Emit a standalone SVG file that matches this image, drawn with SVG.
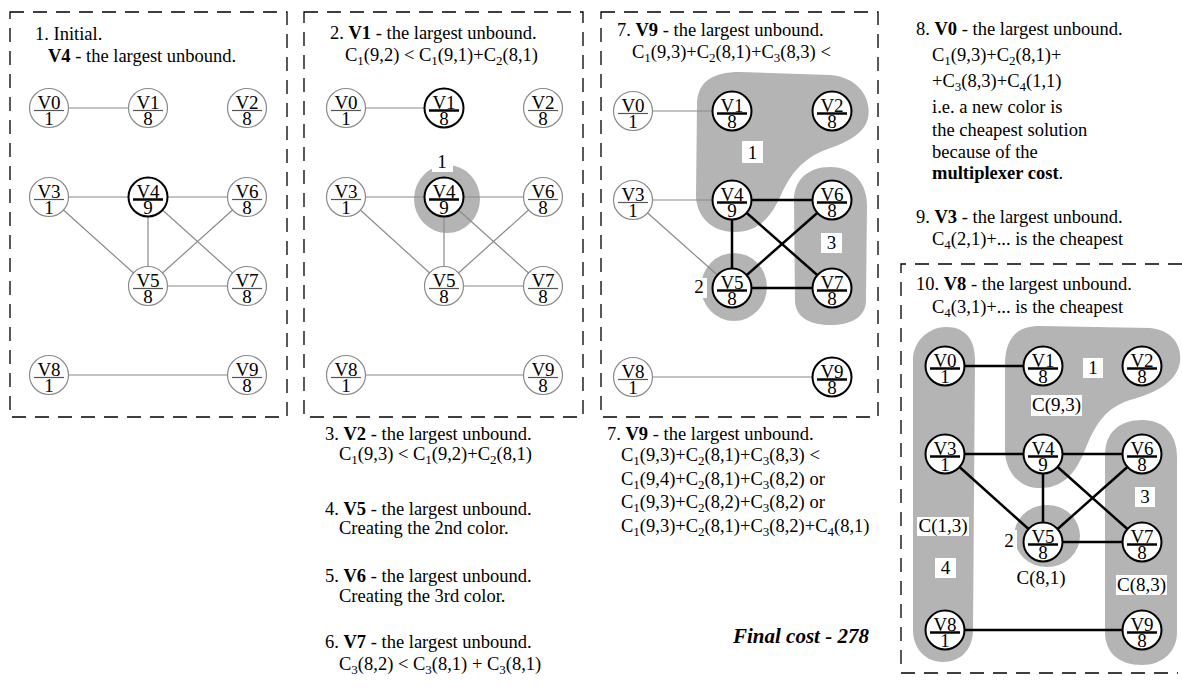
<svg xmlns="http://www.w3.org/2000/svg" width="1182" height="690" viewBox="0 0 1182 690">
<style>
.txt{font-family:"Liberation Serif","Times New Roman",serif;font-size:18.5px;fill:#000}
.b{font-weight:bold}
.s{font-size:13px}
.fin{font-family:"Liberation Serif","Times New Roman",serif;font-size:21px;font-weight:bold;font-style:italic}
.n text{font-family:"Liberation Serif","Times New Roman",serif;font-size:19px;text-anchor:middle;fill:#000}
.n circle{fill:#fff;stroke:#8a8a8a;stroke-width:1.2}
.n line{stroke:#555;stroke-width:1.2}
.n.k circle{stroke:#000;stroke-width:2}
.n.k line{stroke:#000;stroke-width:2.5}
.e{stroke:#8a8a8a;stroke-width:1.2}
.ek{stroke:#000;stroke-width:2.5}
.blob{fill:#b4b4b4}
.box{fill:#fff}
.lbl{font-family:"Liberation Serif","Times New Roman",serif;font-size:19px;text-anchor:middle;fill:#000}
.frame{fill:none;stroke:#000;stroke-width:1.3;stroke-dasharray:14 9}
</style>
<rect width="1182" height="690" fill="#fff"/>

<g id="frames">
<rect class="frame" x="10" y="12" width="277" height="405"/>
<rect class="frame" x="304" y="12" width="279" height="405"/>
<rect class="frame" x="601" y="12" width="277" height="405"/>
<path class="frame" d="M1182 264 H901 V673 H1178"/>
</g>

<g id="groups">
<ellipse class="blob" cx="447" cy="199" rx="33" ry="34"/>
<path class="blob" d="M697 105 C697 82 712 72 740 72 L830 75 C858 77 872 98 868 118 C864 135 845 143 825 150 C802 159 790 175 781 195 C772 215 760 232 735 232 C710 232 696 215 696 195 Z"/>
<path class="blob" d="M794 200 C794 180 808 167 830 167 C855 167 867 185 867 205 L866 300 C866 318 850 325 830 325 C808 325 795 316 795 300 Z"/>
<ellipse class="blob" cx="734" cy="287" rx="33" ry="34"/>
<path class="blob" d="M913 360 C913 340 930 327 946 327 C966 327 975 340 975 360 L973 630 C973 650 960 662 943 662 C925 662 913 648 913 630 Z"/>
<path class="blob" d="M1005 365 C1005 340 1015 326 1040 326 L1150 328 C1172 330 1182 345 1180 362 C1177 380 1160 392 1130 400 C1105 408 1095 425 1085 450 C1075 475 1062 488 1040 488 C1018 488 1005 470 1005 450 Z"/>
<path class="blob" d="M1105 455 C1105 432 1120 420 1142 420 C1165 420 1177 435 1177 458 L1177 632 C1177 652 1162 665 1142 665 C1118 665 1105 652 1105 632 Z"/>
<ellipse class="blob" cx="1047" cy="536" rx="33" ry="31"/>
</g>

<g id="connectors">
<!-- panel 1 -->
<line class="e" x1="49" y1="108" x2="148" y2="108"/>
<line class="e" x1="49" y1="197" x2="148" y2="197"/>
<line class="e" x1="148" y1="197" x2="247" y2="197"/>
<line class="e" x1="49" y1="197" x2="148" y2="286"/>
<line class="e" x1="148" y1="197" x2="148" y2="286"/>
<line class="e" x1="148" y1="197" x2="247" y2="286"/>
<line class="e" x1="247" y1="197" x2="148" y2="286"/>
<line class="e" x1="148" y1="286" x2="247" y2="286"/>
<line class="e" x1="49" y1="375" x2="247" y2="375"/>
<!-- panel 2 -->
<line class="e" x1="346" y1="108" x2="444" y2="108"/>
<line class="e" x1="346" y1="197" x2="444" y2="197"/>
<line class="e" x1="444" y1="197" x2="543" y2="197"/>
<line class="e" x1="346" y1="197" x2="444" y2="286"/>
<line class="e" x1="444" y1="197" x2="444" y2="286"/>
<line class="e" x1="444" y1="197" x2="543" y2="286"/>
<line class="e" x1="543" y1="197" x2="444" y2="286"/>
<line class="e" x1="444" y1="286" x2="543" y2="286"/>
<line class="e" x1="346" y1="375" x2="543" y2="375"/>
<!-- panel 3 -->
<line class="e" x1="633" y1="111" x2="732" y2="111"/>
<line class="e" x1="633" y1="200" x2="732" y2="200"/>
<line class="ek" x1="732" y1="200" x2="832" y2="200"/>
<line class="e" x1="633" y1="200" x2="732" y2="288"/>
<line class="ek" x1="732" y1="200" x2="732" y2="288"/>
<line class="ek" x1="732" y1="200" x2="832" y2="288"/>
<line class="ek" x1="832" y1="200" x2="732" y2="288"/>
<line class="ek" x1="732" y1="288" x2="832" y2="288"/>
<line class="e" x1="633" y1="377" x2="832" y2="377"/>
<!-- panel 4 -->
<line class="ek" x1="945" y1="366" x2="1043" y2="366"/>
<line class="ek" x1="945" y1="454" x2="1043" y2="454"/>
<line class="ek" x1="1043" y1="454" x2="1142" y2="454"/>
<line class="ek" x1="945" y1="454" x2="1043" y2="542"/>
<line class="ek" x1="1043" y1="454" x2="1043" y2="542"/>
<line class="ek" x1="1043" y1="454" x2="1142" y2="542"/>
<line class="ek" x1="1142" y1="454" x2="1043" y2="542"/>
<line class="ek" x1="1043" y1="542" x2="1142" y2="542"/>
<line class="ek" x1="945" y1="630" x2="1142" y2="630"/>
</g>

<!-- Panel 1 nodes -->
<g id="p1-V0" class="n"><circle cx="49" cy="108" r="19.5"/><line x1="34" y1="110.5" x2="64" y2="110.5"/><text x="49" y="108.5">V0</text><text x="49" y="125">1</text></g>
<g id="p1-V1" class="n"><circle cx="148" cy="108" r="19.5"/><line x1="133" y1="110.5" x2="163" y2="110.5"/><text x="148" y="108.5">V1</text><text x="148" y="125">8</text></g>
<g id="p1-V2" class="n"><circle cx="247" cy="108" r="19.5"/><line x1="232" y1="110.5" x2="262" y2="110.5"/><text x="247" y="108.5">V2</text><text x="247" y="125">8</text></g>
<g id="p1-V3" class="n"><circle cx="49" cy="197" r="19.5"/><line x1="34" y1="199.5" x2="64" y2="199.5"/><text x="49" y="197.5">V3</text><text x="49" y="214">1</text></g>
<g id="p1-V4" class="n k"><circle cx="148" cy="197" r="19.5"/><line x1="133" y1="199.5" x2="163" y2="199.5"/><text x="148" y="197.5">V4</text><text x="148" y="214">9</text></g>
<g id="p1-V6" class="n"><circle cx="247" cy="197" r="19.5"/><line x1="232" y1="199.5" x2="262" y2="199.5"/><text x="247" y="197.5">V6</text><text x="247" y="214">8</text></g>
<g id="p1-V5" class="n"><circle cx="148" cy="286" r="19.5"/><line x1="133" y1="288.5" x2="163" y2="288.5"/><text x="148" y="286.5">V5</text><text x="148" y="303">8</text></g>
<g id="p1-V7" class="n"><circle cx="247" cy="286" r="19.5"/><line x1="232" y1="288.5" x2="262" y2="288.5"/><text x="247" y="286.5">V7</text><text x="247" y="303">8</text></g>
<g id="p1-V8" class="n"><circle cx="49" cy="375" r="19.5"/><line x1="34" y1="377.5" x2="64" y2="377.5"/><text x="49" y="375.5">V8</text><text x="49" y="392">1</text></g>
<g id="p1-V9" class="n"><circle cx="247" cy="375" r="19.5"/><line x1="232" y1="377.5" x2="262" y2="377.5"/><text x="247" y="375.5">V9</text><text x="247" y="392">8</text></g>

<!-- Panel 2 nodes -->
<g id="p2-V0" class="n"><circle cx="346" cy="108" r="19.5"/><line x1="331" y1="110.5" x2="361" y2="110.5"/><text x="346" y="108.5">V0</text><text x="346" y="125">1</text></g>
<g id="p2-V1" class="n k"><circle cx="444" cy="108" r="19.5"/><line x1="429" y1="110.5" x2="459" y2="110.5"/><text x="444" y="108.5">V1</text><text x="444" y="125">8</text></g>
<g id="p2-V2" class="n"><circle cx="543" cy="108" r="19.5"/><line x1="528" y1="110.5" x2="558" y2="110.5"/><text x="543" y="108.5">V2</text><text x="543" y="125">8</text></g>
<g id="p2-V3" class="n"><circle cx="346" cy="197" r="19.5"/><line x1="331" y1="199.5" x2="361" y2="199.5"/><text x="346" y="197.5">V3</text><text x="346" y="214">1</text></g>
<g id="p2-V4" class="n k"><circle cx="444" cy="197" r="19.5"/><line x1="429" y1="199.5" x2="459" y2="199.5"/><text x="444" y="197.5">V4</text><text x="444" y="214">9</text></g>
<g id="p2-V6" class="n"><circle cx="543" cy="197" r="19.5"/><line x1="528" y1="199.5" x2="558" y2="199.5"/><text x="543" y="197.5">V6</text><text x="543" y="214">8</text></g>
<g id="p2-V5" class="n"><circle cx="444" cy="286" r="19.5"/><line x1="429" y1="288.5" x2="459" y2="288.5"/><text x="444" y="286.5">V5</text><text x="444" y="303">8</text></g>
<g id="p2-V7" class="n"><circle cx="543" cy="286" r="19.5"/><line x1="528" y1="288.5" x2="558" y2="288.5"/><text x="543" y="286.5">V7</text><text x="543" y="303">8</text></g>
<g id="p2-V8" class="n"><circle cx="346" cy="375" r="19.5"/><line x1="331" y1="377.5" x2="361" y2="377.5"/><text x="346" y="375.5">V8</text><text x="346" y="392">1</text></g>
<g id="p2-V9" class="n"><circle cx="543" cy="375" r="19.5"/><line x1="528" y1="377.5" x2="558" y2="377.5"/><text x="543" y="375.5">V9</text><text x="543" y="392">8</text></g>

<!-- Panel 3 nodes -->
<g id="p3-V0" class="n"><circle cx="633" cy="111" r="19.5"/><line x1="618" y1="113.5" x2="648" y2="113.5"/><text x="633" y="111.5">V0</text><text x="633" y="128">1</text></g>
<g id="p3-V1" class="n k"><circle cx="732" cy="111" r="19.5"/><line x1="717" y1="113.5" x2="747" y2="113.5"/><text x="732" y="111.5">V1</text><text x="732" y="128">8</text></g>
<g id="p3-V2" class="n k"><circle cx="832" cy="111" r="19.5"/><line x1="817" y1="113.5" x2="847" y2="113.5"/><text x="832" y="111.5">V2</text><text x="832" y="128">8</text></g>
<g id="p3-V3" class="n"><circle cx="633" cy="200" r="19.5"/><line x1="618" y1="202.5" x2="648" y2="202.5"/><text x="633" y="200.5">V3</text><text x="633" y="217">1</text></g>
<g id="p3-V4" class="n k"><circle cx="732" cy="200" r="19.5"/><line x1="717" y1="202.5" x2="747" y2="202.5"/><text x="732" y="200.5">V4</text><text x="732" y="217">9</text></g>
<g id="p3-V6" class="n k"><circle cx="832" cy="200" r="19.5"/><line x1="817" y1="202.5" x2="847" y2="202.5"/><text x="832" y="200.5">V6</text><text x="832" y="217">8</text></g>
<g id="p3-V5" class="n k"><circle cx="732" cy="288" r="19.5"/><line x1="717" y1="290.5" x2="747" y2="290.5"/><text x="732" y="288.5">V5</text><text x="732" y="305">8</text></g>
<g id="p3-V7" class="n k"><circle cx="832" cy="288" r="19.5"/><line x1="817" y1="290.5" x2="847" y2="290.5"/><text x="832" y="288.5">V7</text><text x="832" y="305">8</text></g>
<g id="p3-V8" class="n"><circle cx="633" cy="377" r="19.5"/><line x1="618" y1="379.5" x2="648" y2="379.5"/><text x="633" y="377.5">V8</text><text x="633" y="394">1</text></g>
<g id="p3-V9" class="n k"><circle cx="832" cy="377" r="19.5"/><line x1="817" y1="379.5" x2="847" y2="379.5"/><text x="832" y="377.5">V9</text><text x="832" y="394">8</text></g>

<!-- Panel 4 nodes -->
<g id="p4-V0" class="n k"><circle cx="945" cy="366" r="19.5"/><line x1="930" y1="368.5" x2="960" y2="368.5"/><text x="945" y="366.5">V0</text><text x="945" y="383">1</text></g>
<g id="p4-V1" class="n k"><circle cx="1043" cy="366" r="19.5"/><line x1="1028" y1="368.5" x2="1058" y2="368.5"/><text x="1043" y="366.5">V1</text><text x="1043" y="383">8</text></g>
<g id="p4-V2" class="n k"><circle cx="1142" cy="366" r="19.5"/><line x1="1127" y1="368.5" x2="1157" y2="368.5"/><text x="1142" y="366.5">V2</text><text x="1142" y="383">8</text></g>
<g id="p4-V3" class="n k"><circle cx="945" cy="454" r="19.5"/><line x1="930" y1="456.5" x2="960" y2="456.5"/><text x="945" y="454.5">V3</text><text x="945" y="471">1</text></g>
<g id="p4-V4" class="n k"><circle cx="1043" cy="454" r="19.5"/><line x1="1028" y1="456.5" x2="1058" y2="456.5"/><text x="1043" y="454.5">V4</text><text x="1043" y="471">9</text></g>
<g id="p4-V6" class="n k"><circle cx="1142" cy="454" r="19.5"/><line x1="1127" y1="456.5" x2="1157" y2="456.5"/><text x="1142" y="454.5">V6</text><text x="1142" y="471">8</text></g>
<g id="p4-V5" class="n k"><circle cx="1043" cy="542" r="19.5"/><line x1="1028" y1="544.5" x2="1058" y2="544.5"/><text x="1043" y="542.5">V5</text><text x="1043" y="559">8</text></g>
<g id="p4-V7" class="n k"><circle cx="1142" cy="542" r="19.5"/><line x1="1127" y1="544.5" x2="1157" y2="544.5"/><text x="1142" y="542.5">V7</text><text x="1142" y="559">8</text></g>
<g id="p4-V8" class="n k"><circle cx="945" cy="630" r="19.5"/><line x1="930" y1="632.5" x2="960" y2="632.5"/><text x="945" y="630.5">V8</text><text x="945" y="647">1</text></g>
<g id="p4-V9" class="n k"><circle cx="1142" cy="630" r="19.5"/><line x1="1127" y1="632.5" x2="1157" y2="632.5"/><text x="1142" y="630.5">V9</text><text x="1142" y="647">8</text></g>

<g id="group-labels">
<rect class="box" x="432" y="154" width="21" height="18"/><text class="lbl" x="442" y="168">1</text>
<rect class="box" x="742" y="141" width="21" height="22"/><text class="lbl" x="752.5" y="159">1</text>
<rect class="box" x="690" y="278" width="17" height="20"/><text class="lbl" x="699" y="293">2</text>
<rect class="box" x="821" y="233" width="21" height="20"/><text class="lbl" x="831.5" y="249">3</text>
<rect class="box" x="1083" y="358" width="20" height="20"/><text class="lbl" x="1093" y="374">1</text>
<rect class="box" x="1031" y="395" width="51" height="21"/><text class="lbl" x="1056.5" y="411">C(9,3)</text>
<rect class="box" x="1135" y="487" width="20" height="20"/><text class="lbl" x="1145" y="503">3</text>
<rect class="box" x="1116" y="575" width="51" height="20"/><text class="lbl" x="1141.5" y="591">C(8,3)</text>
<rect class="box" x="917" y="517" width="52" height="19"/><text class="lbl" x="943" y="532">C(1,3)</text>
<rect class="box" x="935" y="558" width="21" height="20"/><text class="lbl" x="945.5" y="574">4</text>
<rect class="box" x="1002" y="530" width="15" height="22"/><text class="lbl" x="1009" y="547">2</text>
<text class="lbl" x="1041" y="584">C(8,1)</text>
</g>

<g id="texts">
<text class="txt" x="35" y="40">1. Initial.</text>
<text class="txt" x="48" y="62"><tspan class="b">V4</tspan> - the largest unbound.</text>

<text class="txt" x="330" y="39">2. <tspan class="b">V1</tspan> - the largest unbound.</text>
<text class="txt" x="345" y="61">C<tspan class="s" dy="4">1</tspan><tspan dy="-4">(9,2) &lt; C</tspan><tspan class="s" dy="4">1</tspan><tspan dy="-4">(9,1)+C</tspan><tspan class="s" dy="4">2</tspan><tspan dy="-4">(8,1)</tspan></text>

<text class="txt" x="617" y="36">7. <tspan class="b">V9</tspan> - the largest unbound.</text>
<text class="txt" x="632" y="58">C<tspan class="s" dy="4">1</tspan><tspan dy="-4">(9,3)+C</tspan><tspan class="s" dy="4">2</tspan><tspan dy="-4">(8,1)+C</tspan><tspan class="s" dy="4">3</tspan><tspan dy="-4">(8,3) &lt;</tspan></text>

<text class="txt" x="916" y="35">8. <tspan class="b">V0</tspan> - the largest unbound.</text>
<text class="txt" x="932" y="61">C<tspan class="s" dy="4">1</tspan><tspan dy="-4">(9,3)+C</tspan><tspan class="s" dy="4">2</tspan><tspan dy="-4">(8,1)+</tspan></text>
<text class="txt" x="932" y="87">+C<tspan class="s" dy="4">3</tspan><tspan dy="-4">(8,3)+C</tspan><tspan class="s" dy="4">4</tspan><tspan dy="-4">(1,1)</tspan></text>
<text class="txt" x="932" y="113">i.e. a new color is</text>
<text class="txt" x="932" y="136">the cheapest solution</text>
<text class="txt" x="932" y="158">because of the</text>
<text class="txt b" x="932" y="179">multiplexer cost<tspan font-weight="normal">.</tspan></text>
<text class="txt" x="916" y="223">9. <tspan class="b">V3</tspan> - the largest unbound.</text>
<text class="txt" x="932" y="245">C<tspan class="s" dy="4">4</tspan><tspan dy="-4">(2,1)+... is the cheapest</tspan></text>

<text class="txt" x="916" y="290">10. <tspan class="b">V8</tspan> - the largest unbound.</text>
<text class="txt" x="932" y="313">C<tspan class="s" dy="4">4</tspan><tspan dy="-4">(3,1)+... is the cheapest</tspan></text>

<text class="txt" x="325" y="440">3. <tspan class="b">V2</tspan> - the largest unbound.</text>
<text class="txt" x="339" y="460">C<tspan class="s" dy="4">1</tspan><tspan dy="-4">(9,3) &lt; C</tspan><tspan class="s" dy="4">1</tspan><tspan dy="-4">(9,2)+C</tspan><tspan class="s" dy="4">2</tspan><tspan dy="-4">(8,1)</tspan></text>
<text class="txt" x="325" y="515">4. <tspan class="b">V5</tspan> - the largest unbound.</text>
<text class="txt" x="339" y="534">Creating the 2nd color.</text>
<text class="txt" x="325" y="582">5. <tspan class="b">V6</tspan> - the largest unbound.</text>
<text class="txt" x="339" y="602">Creating the 3rd color.</text>
<text class="txt" x="325" y="648">6. <tspan class="b">V7</tspan> - the largest unbound.</text>
<text class="txt" x="339" y="670">C<tspan class="s" dy="4">3</tspan><tspan dy="-4">(8,2) &lt; C</tspan><tspan class="s" dy="4">3</tspan><tspan dy="-4">(8,1) + C</tspan><tspan class="s" dy="4">3</tspan><tspan dy="-4">(8,1)</tspan></text>

<text class="txt" x="607" y="440">7. <tspan class="b">V9</tspan> - the largest unbound.</text>
<text class="txt" x="621" y="461">C<tspan class="s" dy="4">1</tspan><tspan dy="-4">(9,3)+C</tspan><tspan class="s" dy="4">2</tspan><tspan dy="-4">(8,1)+C</tspan><tspan class="s" dy="4">3</tspan><tspan dy="-4">(8,3) &lt;</tspan></text>
<text class="txt" x="621" y="485">C<tspan class="s" dy="4">1</tspan><tspan dy="-4">(9,4)+C</tspan><tspan class="s" dy="4">2</tspan><tspan dy="-4">(8,1)+C</tspan><tspan class="s" dy="4">3</tspan><tspan dy="-4">(8,2) or</tspan></text>
<text class="txt" x="621" y="508">C<tspan class="s" dy="4">1</tspan><tspan dy="-4">(9,3)+C</tspan><tspan class="s" dy="4">2</tspan><tspan dy="-4">(8,2)+C</tspan><tspan class="s" dy="4">3</tspan><tspan dy="-4">(8,2) or</tspan></text>
<text class="txt" x="621" y="532">C<tspan class="s" dy="4">1</tspan><tspan dy="-4">(9,3)+C</tspan><tspan class="s" dy="4">2</tspan><tspan dy="-4">(8,1)+C</tspan><tspan class="s" dy="4">3</tspan><tspan dy="-4">(8,2)+C</tspan><tspan class="s" dy="4">4</tspan><tspan dy="-4">(8,1)</tspan></text>

<text class="fin" x="733" y="643">Final cost - 278</text>
</g>
</svg>
